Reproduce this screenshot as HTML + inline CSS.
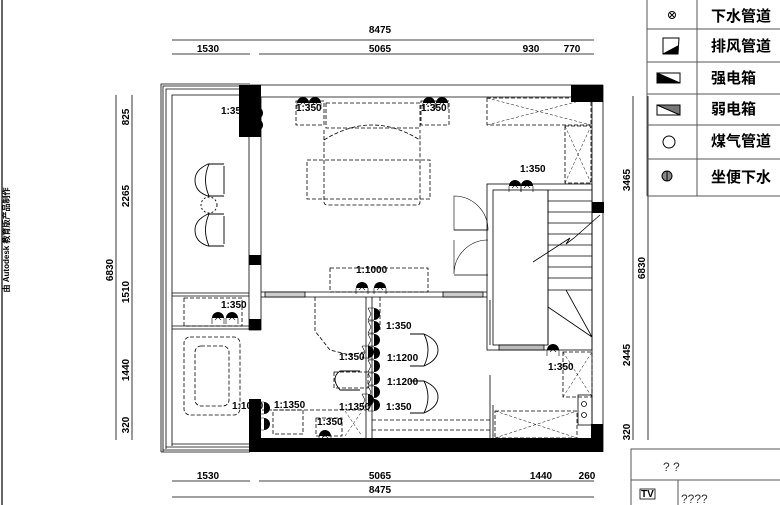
<!DOCTYPE html>
<html><head><meta charset="utf-8"><style>
html,body{margin:0;padding:0;background:#fff;}
svg{display:block}
.d{font-family:"Liberation Sans",sans-serif;font-weight:bold;font-size:10px;}
.c{font-family:"Liberation Sans","Noto Sans CJK SC",sans-serif;font-weight:bold;}
</style></head><body>
<svg width="780" height="505" viewBox="0 0 780 505" xmlns="http://www.w3.org/2000/svg">
<defs>
<g id="s"><path d="M0,-6 A6,6 0 0 1 0,6 Z" fill="#000"/><path d="M0,-6 L-6,-6 M0,6 L-6,6 M-6,-6 L-3,0 L-6,6" stroke="#000" stroke-width="0.6" fill="none"/></g>
<g id="t"><path d="M-6,0 A6,6 0 0 1 6,0 Z" fill="#000"/><path d="M-6,0 L-6,6 M6,0 L6,6 M-3,2 L0,-1 L3,2" stroke="#000" stroke-width="0.6" fill="none"/></g>
</defs>
<g stroke="#000" fill="none" stroke-width="0.8">
<line x1="2" y1="0" x2="2" y2="505" stroke-width="1.2"/>
<!-- top dims -->
<line x1="172" y1="40" x2="594" y2="40"/>
<line x1="172" y1="54" x2="250" y2="54"/><line x1="259" y1="54" x2="508" y2="54"/><line x1="508" y1="54" x2="555" y2="54"/><line x1="555" y1="54" x2="594" y2="54"/>
<!-- bottom dims -->
<line x1="172" y1="481" x2="250" y2="481"/><line x1="259" y1="481" x2="508" y2="481"/><line x1="508" y1="481" x2="594" y2="481"/>
<line x1="172" y1="497" x2="594" y2="497"/>
<!-- left dims -->
<line x1="116" y1="95" x2="116" y2="440"/><line x1="132" y1="95" x2="132" y2="440"/>
<!-- right dims -->
<line x1="633" y1="96" x2="633" y2="440"/><line x1="648" y1="96" x2="648" y2="440"/>
<!-- balcony outline -->
<path d="M161,452 L161,84 L250,84 M163,452 L163,86 L250,86 M166,449 L166,89 L250,89 M172,446 L172,95 L250,95"/>
<line x1="161" y1="452" x2="250" y2="452"/><line x1="163" y1="450" x2="250" y2="450"/><line x1="166" y1="447" x2="250" y2="447"/><line x1="172" y1="444" x2="250" y2="444"/>
<!-- top wall -->
<line x1="250" y1="85" x2="603" y2="85"/><line x1="261" y1="97" x2="592" y2="97"/>
<!-- right wall -->
<line x1="603" y1="85" x2="603" y2="452"/><line x1="592" y1="97" x2="592" y2="438"/>
<!-- partition balcony -->
<line x1="249" y1="85" x2="249" y2="330"/><line x1="261" y1="97" x2="261" y2="330"/>
<line x1="172" y1="293" x2="249" y2="293"/><line x1="172" y1="296" x2="249" y2="296"/>
<line x1="172" y1="326" x2="249" y2="326"/><line x1="172" y1="329" x2="249" y2="329"/>
<line x1="249" y1="330" x2="261" y2="330"/>
<!-- horizontal wall mid -->
<line x1="261" y1="292" x2="487" y2="292"/><line x1="261" y1="297" x2="487" y2="297"/>
<rect x="265" y="292" width="40" height="5" fill="#ccc"/><rect x="443" y="292" width="40" height="5" fill="#ccc"/>
<!-- vertical partition -->
<line x1="366" y1="297" x2="366" y2="438"/><line x1="372" y1="297" x2="372" y2="438"/>
<!-- stair -->
<rect x="487" y="184" width="105" height="166"/>
<rect x="493" y="190" width="55" height="155"/>
<rect x="499" y="345" width="45" height="5" fill="#bbb"/>
<line x1="490" y1="300" x2="490" y2="345"/>
<line x1="548" y1="190" x2="592" y2="190"/><line x1="548" y1="201" x2="592" y2="201"/><line x1="548" y1="212" x2="592" y2="212"/><line x1="548" y1="223" x2="592" y2="223"/><line x1="548" y1="234" x2="592" y2="234"/><line x1="548" y1="245" x2="592" y2="245"/><line x1="548" y1="256" x2="592" y2="256"/><line x1="548" y1="267" x2="592" y2="267"/><line x1="548" y1="278" x2="592" y2="278"/><line x1="548" y1="290" x2="592" y2="290"/>
<line x1="548" y1="190" x2="548" y2="345"/>
<path d="M533,262 L570,238 L566,244 L574,238 L600,215"/>
<path d="M566,290 L592,337 M548,307 L592,337"/>
<!-- doors -->
<path d="M488,230 A34,34 0 0 0 454,196 L454,230 Z" stroke-width="0.6"/>
<path d="M488,240 A34,34 0 0 0 454,274 L454,240" stroke-width="0.6"/>
<line x1="454" y1="230" x2="488" y2="230"/><line x1="454" y1="275" x2="488" y2="275"/>
<!-- lower right partitions -->
<line x1="490" y1="375" x2="490" y2="438"/><line x1="493" y1="405" x2="493" y2="438"/>
<rect x="578" y="395" width="14" height="30"/>
<circle cx="584" cy="404" r="2.5"/><circle cx="584" cy="415" r="2.5"/>
</g>
<!-- black walls -->
<g fill="#000">
<rect x="239" y="85" width="22" height="52"/>
<rect x="571" y="85" width="32" height="17"/>
<rect x="249" y="255" width="12" height="10"/>
<rect x="249" y="319" width="12" height="11"/>
<rect x="249" y="399" width="12" height="53"/>
<rect x="249" y="438" width="354" height="14"/>
<rect x="591" y="424" width="12" height="28"/>
<rect x="592" y="202" width="12" height="11"/>
</g>
<!-- dashed furniture -->
<g stroke="#000" fill="none" stroke-width="0.8" stroke-dasharray="4,2">
<rect x="296" y="101" width="28" height="24"/><rect x="421" y="101" width="28" height="24"/>
<rect x="326" y="103" width="94" height="25"/>
<path d="M324,130 L324,202 Q324,205 328,205 L417,205 Q420,205 420,202 L420,130"/>
<path d="M324,140 Q372,110 420,140"/>
<rect x="307" y="160" width="123" height="39"/>
<rect x="487" y="98" width="104" height="27"/>
<rect x="565" y="126" width="26" height="57"/>
<rect x="330" y="268" width="98" height="24"/>
<rect x="184" y="298" width="58" height="28"/>
<rect x="184" y="337" width="56" height="78" rx="6"/>
<rect x="195" y="346" width="34" height="60" rx="6"/>
<path d="M315,297 L315,331 L330,350 L350,355 L364,352"/>
<rect x="334" y="372" width="34" height="16"/>
<rect x="273" y="410" width="30" height="24"/>
<rect x="316" y="418" width="26" height="18"/>
<line x1="262" y1="410" x2="366" y2="410"/>
<line x1="380" y1="297" x2="380" y2="330"/>
<path d="M372,420 L490,420 M372,430 L490,430"/>
<rect x="495" y="411" width="82" height="27"/>
<rect x="563" y="352" width="29" height="45"/>
</g>
<g stroke="#000" fill="none" stroke-width="0.5" stroke-dasharray="3,2">
<path d="M487,98 L591,125 M487,125 L591,98 M565,126 L591,183 M565,183 L591,126 M495,411 L577,438 M495,438 L577,411 M563,352 L592,397 M563,397 L592,352 M345,411 L362,436 M345,436 L362,411"/>
</g>
<!-- chairs -->
<g stroke="#000" fill="none" stroke-width="0.9">
<path d="M224,164 L208,164 Q195,170 195,180 Q195,192 208,196 L224,196 M209,164 Q202,180 209,196 M224,166 L224,194"/>
<path d="M224,214 L208,214 Q195,220 195,230 Q195,242 208,246 L224,246 M209,214 Q202,230 209,246 M224,216 L224,244"/>
<circle cx="209" cy="205" r="8" stroke-dasharray="2,2"/>
<path d="M410,334 L424,334 Q438,340 438,350 Q438,360 424,366 L410,366 M424,334 Q432,350 424,366"/>
<path d="M410,381 L424,381 Q438,387 438,397 Q438,407 424,413 L410,413 M424,381 Q432,397 424,413"/>
<path d="M360,371 L340,371 Q330,378 340,390 L360,390"/>
</g>
<!-- sockets -->
<use href="#s" x="257" y="113"/><use href="#s" x="257" y="125"/>
<use href="#t" x="303" y="103"/><use href="#t" x="315" y="103"/>
<use href="#t" x="429" y="103"/><use href="#t" x="442" y="103"/>
<use href="#t" x="515" y="186"/><use href="#t" x="527" y="186"/>
<use href="#t" x="362" y="288"/><use href="#t" x="380" y="288"/>
<use href="#t" x="218" y="318"/><use href="#t" x="232" y="318"/>
<use href="#s" x="374" y="314"/><use href="#s" x="374" y="327"/><use href="#s" x="374" y="340"/><use href="#s" x="374" y="353"/><use href="#s" x="374" y="366"/><use href="#s" x="374" y="379"/><use href="#s" x="374" y="392"/><use href="#s" x="374" y="405"/>
<use href="#s" x="368" y="352"/><use href="#s" x="368" y="400"/>
<use href="#s" x="264" y="408"/><use href="#s" x="264" y="424"/>
<use href="#t" x="325" y="436"/><use href="#t" x="553" y="350"/>
<!-- labels small -->
<g class="d" font-size="8">
<text x="221" y="114" transform="scale(1,1)">1:350</text>
<text x="296" y="111">1:350</text><text x="421" y="111">1:350</text>
<text x="520" y="172">1:350</text>
<text x="356" y="273">1:1000</text>
<text x="221" y="308">1:350</text>
<text x="386" y="329">1:350</text><text x="339" y="360">1:350</text>
<text x="387" y="361">1:1200</text><text x="387" y="385">1:1200</text>
<text x="339" y="410">1:1350</text><text x="386" y="410">1:350</text>
<text x="274" y="408">1:1350</text><text x="232" y="409">1:1000</text>
<text x="317" y="425">1:350</text><text x="548" y="370">1:350</text>
</g>
<!-- dim text -->
<g class="d" text-anchor="middle">
<text x="380" y="33">8475</text>
<text x="208" y="52">1530</text><text x="380" y="52">5065</text><text x="531" y="52">930</text><text x="572" y="52">770</text>
<text x="208" y="479">1530</text><text x="380" y="479">5065</text><text x="541" y="479">1440</text><text x="587" y="479">260</text>
<text x="380" y="493">8475</text>
<text transform="translate(129,117) rotate(-90)">825</text>
<text transform="translate(129,196) rotate(-90)">2265</text>
<text transform="translate(129,292) rotate(-90)">1510</text>
<text transform="translate(129,370) rotate(-90)">1440</text>
<text transform="translate(129,425) rotate(-90)">320</text>
<text transform="translate(113,270) rotate(-90)">6830</text>
<text transform="translate(630,180) rotate(-90)">3465</text>
<text transform="translate(645,268) rotate(-90)">6830</text>
<text transform="translate(630,355) rotate(-90)">2445</text>
<text transform="translate(630,432) rotate(-90)">320</text>
<text transform="translate(9,240) rotate(-90)" font-size="8">由 Autodesk 教育版产品制作</text>
</g>
<!-- legend -->
<g stroke="#555" fill="none" stroke-width="1">
<line x1="647" y1="0" x2="647" y2="196"/><line x1="697" y1="0" x2="697" y2="196"/>
<line x1="647" y1="29" x2="780" y2="29"/><line x1="647" y1="62" x2="780" y2="62"/><line x1="647" y1="94" x2="780" y2="94"/><line x1="647" y1="125" x2="780" y2="125"/><line x1="647" y1="159" x2="780" y2="159"/><line x1="647" y1="196" x2="780" y2="196"/>
<rect x="631" y="449" width="150" height="60"/><line x1="631" y1="480" x2="780" y2="480"/><line x1="678" y1="480" x2="678" y2="505"/>
</g>
<g stroke="#000" stroke-width="1" fill="none">
<circle cx="672" cy="15" r="3.5"/><path d="M670,13 L674,17 M674,13 L670,17"/>
<path d="M663,38 L679,38 L678,54 L663,54 Z"/><path d="M663,54 L678,54 L678,46 Z" fill="#000"/>
<rect x="657" y="73" width="23" height="10"/><path d="M657,73 L680,83 L657,83 Z" fill="#000"/>
<rect x="657" y="105" width="23" height="10"/><path d="M657,105 L680,105 L680,115 Z" fill="#777"/>
<circle cx="669" cy="142" r="6"/>
<circle cx="667" cy="176" r="5" fill="#888"/><line x1="667" y1="171" x2="667" y2="181"/>
</g>
<g class="c" font-size="15">
<text x="711" y="21">下水管道</text><text x="711" y="51">排风管道</text><text x="711" y="83">强电箱</text><text x="711" y="114">弱电箱</text><text x="711" y="146">煤气管道</text><text x="711" y="182">坐便下水</text>
</g>
<text x="663" y="471" font-family="Liberation Sans,sans-serif" font-size="12" fill="#333">? ?</text>
<text x="681" y="503" font-family="Liberation Sans,sans-serif" font-size="12" fill="#333">????</text>
<text x="641" y="497" class="d" font-size="9">TV</text>
<rect x="640" y="489" width="15" height="10" fill="none" stroke="#000" stroke-width="0.8"/>
</svg>
</body></html>
